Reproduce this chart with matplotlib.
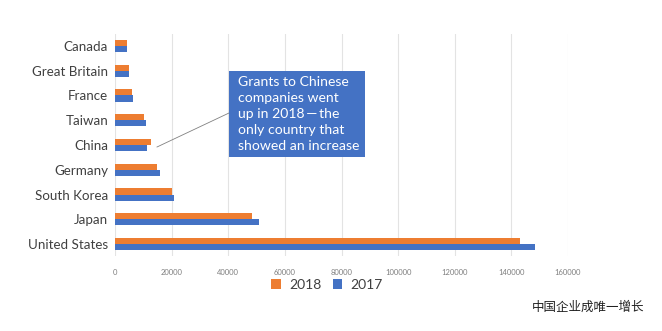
import matplotlib
matplotlib.use("Agg")
import matplotlib.pyplot as plt
from matplotlib.patches import Rectangle
import numpy as np

plt.rcParams['font.family'] = ['Lato', 'Noto Sans CJK SC', 'DejaVu Sans']

countries = ["Canada", "Great Britain", "France", "Taiwan", "China", "Germany",
             "South Korea", "Japan", "United States"]
v2018 = [4300, 4800, 6000, 10200, 12700, 14800, 20200, 48400, 143100]
v2017 = [4400, 4800, 6500, 11000, 11300, 15900, 21000, 50800, 148500]
xticks = [0, 20000, 40000, 60000, 80000, 100000, 120000, 140000, 160000]

C18 = "#ED7D31"
C17 = "#4472C4"

fig = plt.figure(figsize=(6.62, 3.31), dpi=100)
ax = fig.add_axes([115/662, 1-256.4/331, (568-115)/662, (256.4-33.6)/331])

y = np.arange(len(countries))
h = 0.25
ax.barh(y - h/2, v2018, height=h, color=C18, label="2018", zorder=3)
ax.barh(y + h/2, v2017, height=h, color=C17, label="2017", zorder=3)
ax.set_ylim(len(countries) - 0.5, -0.5)
ax.set_xlim(0, 160000)
ax.set_yticks(y)
ax.set_yticklabels(countries, fontsize=9.6, color="#404040")
ax.set_xticks(xticks)
ax.set_xticklabels([str(t) for t in xticks], fontsize=5.5, color="#7f7f7f")
ax.tick_params(axis='both', length=0)
ax.tick_params(axis='x', pad=9)
ax.tick_params(axis='y', pad=5)
ax.grid(axis='x', color="#e3e3e3", linewidth=0.8, zorder=0)
for s in ax.spines.values():
    s.set_visible(False)

leg = fig.legend(loc='center', bbox_to_anchor=(327/662, 1-285/331), ncol=2,
                 frameon=False, fontsize=10, handlelength=0.7, handleheight=0.7,
                 handletextpad=0.6, columnspacing=0.8)
for t in leg.get_texts():
    t.set_color("#404040")

# annotation box
bx0, by0, bx1, by1 = 229, 71, 365, 157
fig.patches.append(Rectangle((bx0/662, 1-by1/331), (bx1-bx0)/662, (by1-by0)/331,
                             transform=fig.transFigure, facecolor=C17, edgecolor='none', zorder=5))
fig.text(238/662, 1-114/331,
         "Grants to Chinese\ncompanies went\nup in 2018\u2009\u2014\u2009the\nonly country that\nshowed an increase",
         color="white", fontsize=10.1, va='center', ha='left', linespacing=1.38, zorder=6)
fig.add_artist(plt.Line2D([157/662, 229/662], [1-147/331, 1-113/331],
                          transform=fig.transFigure, color="#808080", linewidth=0.6))

fig.text(644/662, 1-307/331, "中国企业成唯一增长", fontsize=9, color="#222222",
         ha='right', va='center', family=['Noto Sans CJK SC', 'DejaVu Sans'])

fig.savefig("out.png", dpi=100)
